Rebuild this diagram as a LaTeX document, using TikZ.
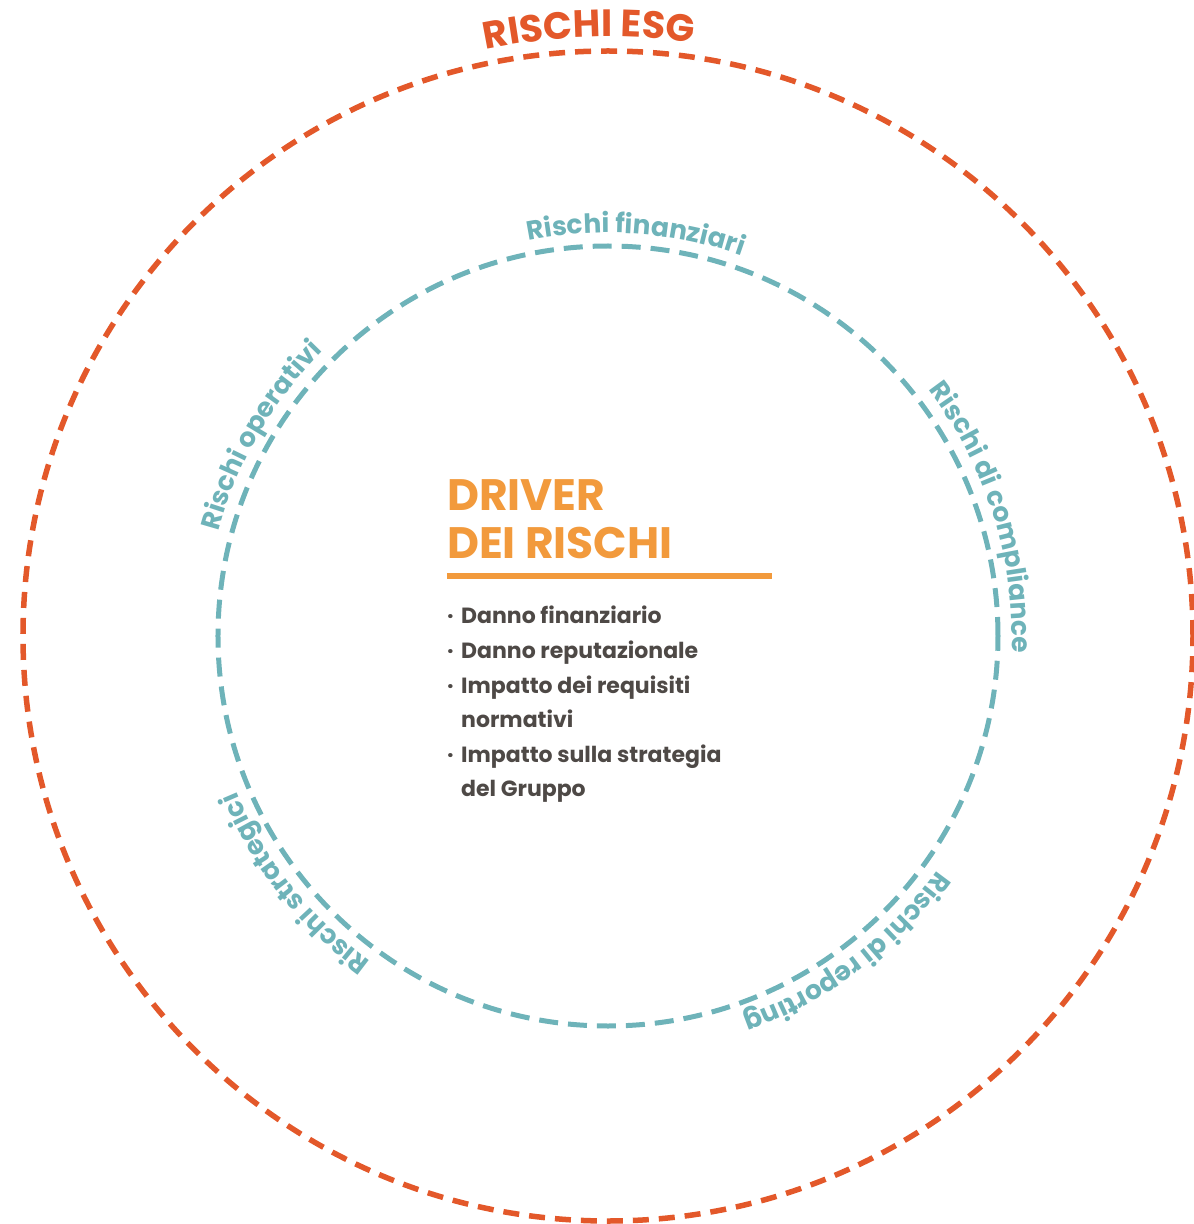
\documentclass[tikz,border=0pt]{standalone}
\usepackage{fontspec}
\setmainfont{Poppins}
\usetikzlibrary{decorations.text}
\definecolor{esgred}{HTML}{E3582A}
\definecolor{riskteal}{HTML}{6EB3B9}
\definecolor{driverorange}{HTML}{F29A3C}
\definecolor{listgray}{HTML}{4E4946}
\tikzset{
  outerring/.style={draw=esgred, line width=5.5pt, dash pattern=on 16pt off 10pt},
  innerring/.style={draw=riskteal, line width=5pt, dash pattern=on 19pt off 10pt},
  ringlabel/.style={decorate, decoration={text along path, text align=center, text={#1}}},
}
\newcommand{\tealfont}{\fontsize{26.5}{26.5}\selectfont\bfseries\color{riskteal}}
\begin{document}
\begin{tikzpicture}[x=1pt,y=1pt]
\useasboundingbox (-608,-588) rectangle (586,636);
% rings
\draw[outerring] (0,0) circle[radius=585pt];
\draw[innerring] (0,0) circle[radius=390pt];
% labels along the rings
\path[ringlabel={|\fontsize{38}{38}\selectfont\bfseries\color{esgred}|RISCHI ESG}]
  (151.8:599pt) arc[start angle=151.8, end angle=31.8, radius=599pt];
\path[ringlabel={|\tealfont|Rischi finanziari}]
  (146:403pt) arc[start angle=146, end angle=26, radius=403pt];
\path[ringlabel={|\tealfont|Rischi operativi}]
  (210:403pt) arc[start angle=210, end angle=90, radius=403pt];
\path[ringlabel={|\tealfont|Rischi di compliance}]
  (77.6:404pt) arc[start angle=77.6, end angle=-42.4, radius=404pt];
\path[ringlabel={|\tealfont|Rischi di reporting}]
  (7:404pt) arc[start angle=7, end angle=-113, radius=404pt];
\path[ringlabel={|\tealfont|Rischi strategici}]
  (-81.7:403pt) arc[start angle=-81.7, end angle=-201.7, radius=403pt];
% centre block
\node[anchor=north west, inner sep=0pt, align=left, text=driverorange,
  font=\fontsize{44}{48}\selectfont\bfseries] (title) at (-161,157) {DRIVER\\DEI RISCHI};
\coordinate (ruleL) at (-161,60);
\coordinate (ruleR) at (164,60);
\draw[driverorange, line width=6pt] (ruleL) -- (ruleR);
\node[anchor=north west, inner sep=0pt, align=left, text=listgray,
  font=\fontsize{22}{34.6}\selectfont\bfseries] (drivers) at (-161,30)
  {\makebox[14pt][l]{·}Danno finanziario\\
   \makebox[14pt][l]{·}Danno reputazionale\\
   \makebox[14pt][l]{·}Impatto dei requisiti\\
   \makebox[14pt][l]{}normativi\\
   \makebox[14pt][l]{·}Impatto sulla strategia\\
   \makebox[14pt][l]{}del Gruppo};
\end{tikzpicture}
\end{document}
